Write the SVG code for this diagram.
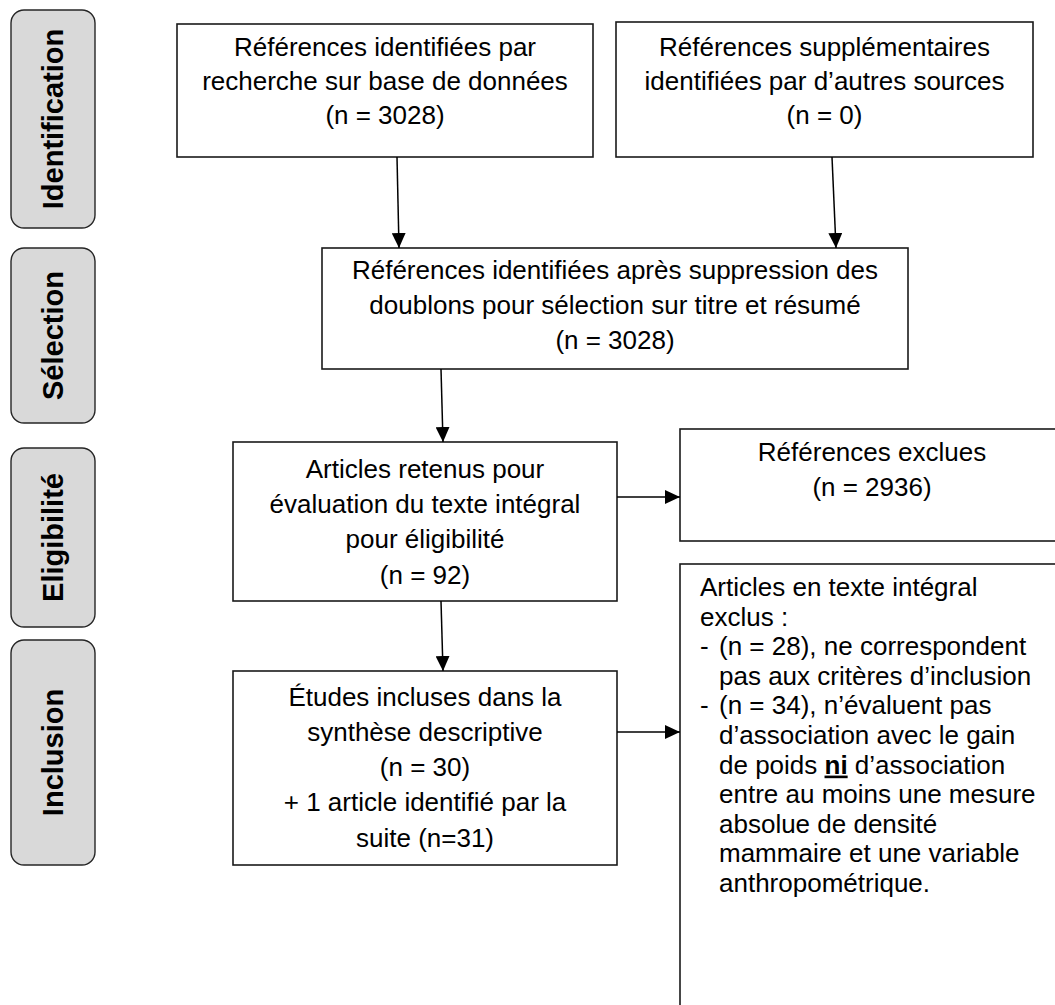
<svg xmlns="http://www.w3.org/2000/svg" width="1055" height="1005" viewBox="0 0 1055 1005">
<defs>
<style>
.phase rect{fill:#d9d9d9;stroke:#262626;stroke-width:1.4}
.phase text{font-family:"Liberation Sans",Arial,sans-serif;font-weight:bold;font-size:29px;fill:#000;text-anchor:middle}
.box rect{fill:#fff;stroke:#1a1a1a;stroke-width:1.6}
.box text{font-family:"Liberation Sans",Arial,sans-serif;font-size:26px;fill:#000}
.c{text-anchor:middle}
.conn line{stroke:#000;stroke-width:1.5;marker-end:url(#ah)}
</style>
<marker id="ah" viewBox="0 0 15 14" refX="15" refY="7" markerWidth="15" markerHeight="14" markerUnits="userSpaceOnUse" orient="auto">
<path d="M0,0 L15,7 L0,14 z" fill="#000"/>
</marker>
</defs>
<rect width="1055" height="1005" fill="#fff"/>

<g id="phase-identification" class="phase">
<rect x="11" y="10" width="84" height="218" rx="13"/>
<text x="53" y="129" transform="rotate(-90 53 119)">Identification</text>
</g>
<g id="phase-selection" class="phase">
<rect x="11" y="248" width="84" height="175" rx="13"/>
<text x="53" y="345.5" transform="rotate(-90 53 335.5)">Sélection</text>
</g>
<g id="phase-eligibilite" class="phase">
<rect x="11" y="448" width="84" height="179" rx="13"/>
<text x="53" y="547.5" transform="rotate(-90 53 537.5)">Eligibilité</text>
</g>
<g id="phase-inclusion" class="phase">
<rect x="11" y="640" width="84" height="225" rx="13"/>
<text x="53" y="762.5" transform="rotate(-90 53 752.5)">Inclusion</text>
</g>

<g id="box-db" class="box">
<rect x="177" y="24" width="416" height="133"/>
<text class="c" x="385" y="56">Références identifiées par</text>
<text class="c" x="385" y="90">recherche sur base de données</text>
<text class="c" x="385" y="124">(n = 3028)</text>
</g>
<g id="box-other" class="box">
<rect x="616" y="22" width="417" height="135"/>
<text class="c" x="824.5" y="56">Références supplémentaires</text>
<text class="c" x="824.5" y="90">identifiées par d’autres sources</text>
<text class="c" x="824.5" y="124">(n = 0)</text>
</g>
<g id="box-dedup" class="box">
<rect x="322" y="248" width="586" height="121"/>
<text class="c" x="615" y="279">Références identifiées après suppression des</text>
<text class="c" x="615" y="314">doublons pour sélection sur titre et résumé</text>
<text class="c" x="615" y="349">(n = 3028)</text>
</g>
<g id="box-fulltext" class="box">
<rect x="233" y="442" width="384" height="159"/>
<text class="c" x="425" y="478">Articles retenus pour</text>
<text class="c" x="425" y="513">évaluation du texte intégral</text>
<text class="c" x="425" y="548">pour éligibilité</text>
<text class="c" x="425" y="584">(n = 92)</text>
</g>
<g id="box-included" class="box">
<rect x="233" y="671" width="384" height="194"/>
<text class="c" x="425" y="706">Études incluses dans la</text>
<text class="c" x="425" y="741">synthèse descriptive</text>
<text class="c" x="425" y="776">(n = 30)</text>
<text class="c" x="425" y="811">+ 1 article identifié par la</text>
<text class="c" x="425" y="847">suite (n=31)</text>
</g>
<g id="box-excluded" class="box">
<rect x="680" y="429" width="384" height="112"/>
<text class="c" x="872" y="461">Références exclues</text>
<text class="c" x="872" y="496">(n = 2936)</text>
</g>
<g id="box-ft-excluded" class="box">
<rect x="680" y="564" width="384" height="470"/>
<text x="700" y="596">Articles en texte intégral</text>
<text x="700" y="625.6">exclus :</text>
<text x="700" y="655.2">-</text><text x="719" y="655.2">(n = 28), ne correspondent</text>
<text x="719" y="684.8">pas aux critères d’inclusion</text>
<text x="700" y="714.4">-</text><text x="719" y="714.4">(n = 34), n’évaluent pas</text>
<text x="719" y="744">d’association avec le gain</text>
<text x="719" y="773.6">de poids <tspan font-weight="bold" text-decoration="underline">ni</tspan> d’association</text>
<text x="719" y="803.2">entre au moins une mesure</text>
<text x="719" y="832.8">absolue de densité</text>
<text x="719" y="862.4">mammaire et une variable</text>
<text x="719" y="892">anthropométrique.</text>
</g>

<g id="connectors" class="conn">
<line x1="397" y1="157" x2="399" y2="248"/>
<line x1="832" y1="157" x2="836" y2="248"/>
<line x1="441" y1="369" x2="443" y2="442"/>
<line x1="441" y1="601" x2="443" y2="671"/>
<line x1="617" y1="497" x2="680" y2="497"/>
<line x1="617" y1="732" x2="680" y2="732"/>
</g>
</svg>
